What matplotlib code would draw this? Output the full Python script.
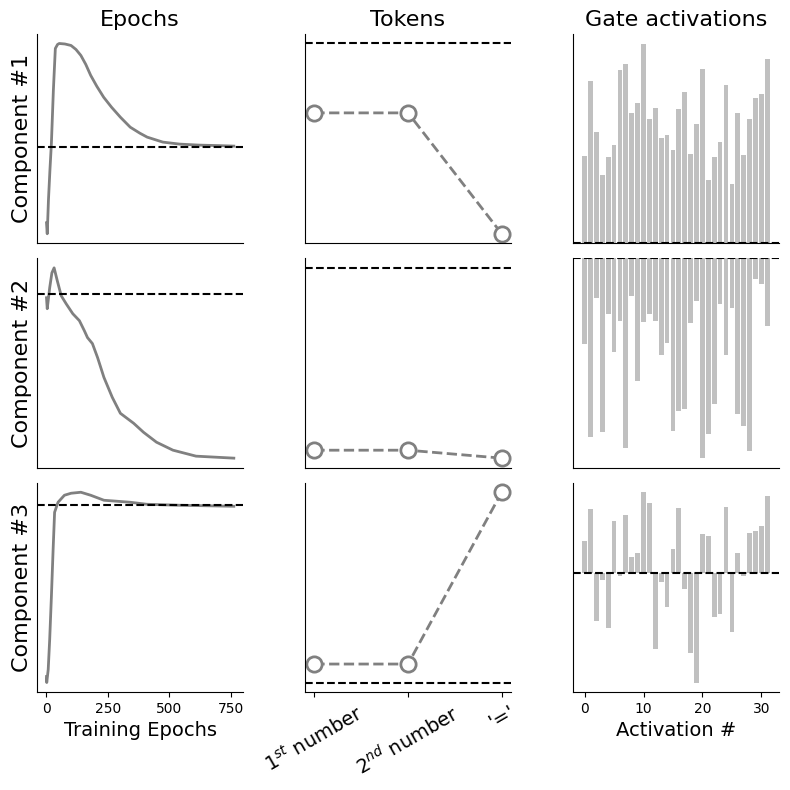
import matplotlib
matplotlib.use('Agg')

import matplotlib.pyplot as plt

# epoch curves (arbitrary units)
epochs1 = [0, 3, 8, 14, 20, 28, 36, 45, 52, 75, 100, 120, 140, 160, 180, 205, 233, 265, 301, 341, 380, 410, 474, 542, 620, 700, 763]
curve1 = [0.20, 0.09, 0.43, 0.73, 1.00, 1.53, 1.95, 1.99, 2.00, 1.995, 1.98, 1.94, 1.88, 1.79, 1.68, 1.57, 1.46, 1.36, 1.26, 1.16, 1.10, 1.06, 1.01, 0.99, 0.98, 0.975, 0.97]
target1 = 0.963

epochs2 = [0, 3, 13, 22, 31, 44, 60, 80, 107, 134, 154, 167, 187, 208, 234, 268, 301, 328, 355, 395, 448, 515, 609, 763]
curve2 = [1.70, 1.59, 1.80, 1.95, 2.00, 1.87, 1.72, 1.64, 1.54, 1.47, 1.37, 1.30, 1.24, 1.10, 0.90, 0.70, 0.54, 0.49, 0.44, 0.35, 0.25, 0.17, 0.11, 0.09]
target2 = 1.74

epochs3 = [0, 1, 7, 13, 20, 27, 33, 47, 73, 100, 140, 180, 234, 288, 341, 408, 542, 763]
curve3 = [0.15, 0.09, 0.22, 0.52, 0.95, 1.42, 1.79, 1.89, 1.96, 1.98, 1.99, 1.96, 1.91, 1.90, 1.89, 1.87, 1.86, 1.85]
target3 = 1.86

# token values
tokenLabels = ['1$^{st}$ number', '2$^{nd}$ number', "'='"]
tokens1 = [1.297, 1.297, 0.09]
tokens2 = [0.16, 0.16, 0.08]
tokens3 = [0.277, 0.277, 1.987]
tokenRef = [1.99, 1.997, 0.093]

# gate activations
gates1 = [2.61, 4.86, 3.33, 2.04, 2.58, 2.94, 5.19, 5.37, 3.90, 4.20, 5.97, 3.72, 4.05, 3.15, 3.24, 2.79,
          4.02, 4.53, 2.67, 3.57, 5.22, 1.89, 2.58, 3.03, 4.74, 1.77, 3.90, 2.64, 3.72, 4.35, 4.47, 5.52]
gates2 = [-2.55, -5.33, -1.20, -5.18, -1.67, -2.81, -1.88, -5.66, -1.13, -3.68, -1.91, -1.67, -1.88, -2.90, -2.54, -5.15,
          -4.55, -4.49, -1.94, -1.28, -5.96, -5.24, -4.34, -1.37, -2.90, -1.49, -4.64, -5.00, -5.75, -0.62, -0.77, -2.03]
gates3 = [0.95, 1.91, -1.44, -0.21, -1.65, 1.55, -0.09, 1.73, 0.47, 0.59, 2.42, 2.09, -2.28, -0.27, -1.02, 0.71,
          1.94, -0.48, -2.40, -3.27, 1.16, 1.10, -1.32, -1.23, 1.97, -1.77, 0.59, -0.09, 1.19, 1.25, 1.40, 2.30]

curves = [(epochs1, curve1, target1), (epochs2, curve2, target2), (epochs3, curve3, target3)]
tokenVals = [tokens1, tokens2, tokens3]
gateVals = [gates1, gates2, gates3]


def main():
  fig, axes = plt.subplots(3, 3, figsize=(7.9, 7.9), dpi=100)
  plt.subplots_adjust(left=0.047, right=0.986, top=0.957, bottom=0.124, wspace=0.30, hspace=0.072)

  for i in range(3):
    ax = axes[i][0]
    ep, cv, tg = curves[i]
    ax.plot(ep, cv, color='gray', lw=2)
    ax.axhline(tg, color='k', ls='--', lw=1.5)

    ax = axes[i][1]
    ax.plot(range(3), tokenVals[i], color='gray', ls='--', lw=2, marker='o',
            markersize=11, markerfacecolor='white', markeredgecolor='gray', markeredgewidth=2)
    ax.axhline(tokenRef[i], color='k', ls='--', lw=1.5)

    ax = axes[i][2]
    ax.bar(range(len(gateVals[i])), gateVals[i], color='silver')
    ax.axhline(0, color='k', ls='--', lw=1.5)

    for ax in axes[i]:
      ax.spines['top'].set_visible(False)
      ax.spines['right'].set_visible(False)
      ax.set_yticks([])
      if i < 2:
        ax.set_xticks([])

    axes[i][0].set_ylabel('Component #%d' % (i + 1), fontsize=16)

  axes[0][0].set_title('Epochs', fontsize=16)
  axes[0][1].set_title('Tokens', fontsize=16)
  axes[0][2].set_title('Gate activations', fontsize=16)

  axes[2][0].set_xticks([0, 250, 500, 750])
  axes[2][0].set_xlabel('Training Epochs', fontsize=14)
  axes[2][1].set_xticks(range(3))
  axes[2][1].set_xticklabels(tokenLabels, rotation=30, ha='center', fontsize=14)
  axes[2][2].set_xticks([0, 10, 20, 30])
  axes[2][2].set_xlabel('Activation #', fontsize=14)

  plt.savefig('out.png')

if __name__ == '__main__':
  main()
